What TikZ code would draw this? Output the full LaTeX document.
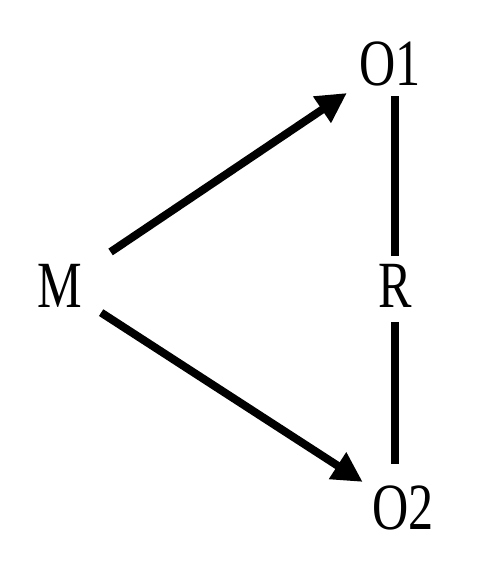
\documentclass[tikz,border=0pt]{standalone}
\usepackage{fontspec}
\setmainfont{Liberation Serif}
\usetikzlibrary{arrows.meta}

\newcommand{\narrow}[1]{\scalebox{0.76}[1]{#1}}

\begin{document}
\begin{tikzpicture}[
  x=1pt,y=1pt,
  lbl/.style={inner sep=0pt,font=\fontsize{66}{70}\selectfont},
  arr/.style={-{Triangle[length=30pt,width=30pt]},line width=8pt},
  link/.style={line width=8.5pt}
]
\useasboundingbox (0,0) rectangle (490,570);

\node[lbl] (M) at (60,284) {\narrow{M}};
\node[lbl] (O1) at (390,506) {\narrow{O1}};
\node[lbl] (R) at (395,284) {\narrow{R}};
\node[lbl] (O2) at (403,62) {\narrow{O2}};

\draw[arr,shorten <=61pt,shorten >=52pt] (M.center)--(O1.center);
\draw[arr,shorten <=49pt,shorten >=48pt] (M.center)--(O2.center);

\draw[link,shorten <=10pt,shorten >=8pt] (O1.south -| R.center)--(R.north);
\draw[link,shorten <=14pt,shorten >=22pt] (R.south)--(R.south |- O2.north);
\end{tikzpicture}
\end{document}
